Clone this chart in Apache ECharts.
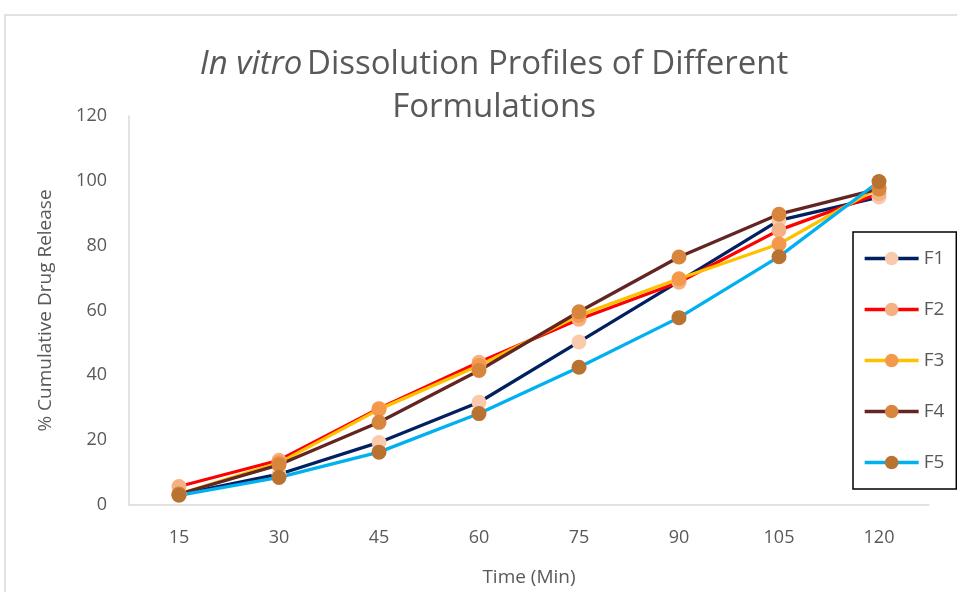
<!DOCTYPE html>
<html><head><meta charset="utf-8">
<script src="https://cdn.jsdelivr.net/npm/echarts@6/dist/echarts.min.js"></script>
<style>html,body{margin:0;padding:0;background:#fff}#c{width:957px;height:592px}</style>
</head><body><div id="c"></div>
<script>
const categories = ['15','30','45','60','75','90','105','120'];
const seriesNames = ['F1','F2','F3','F4','F5'];
const F1 = [3.2, 9.5, 19.3, 31.7, 50.3, 69, 87.8, 95];
const F2 = [5.7, 13.8, 29.8, 44, 57.3, 68.7, 84.8, 96];
const F3 = [3.4, 13, 29.5, 43, 58.5, 69.8, 80.5, 98];
const F4 = [3.4, 12.4, 25.5, 41.5, 59.6, 76.5, 89.7, 97.5];
const F5 = [3, 8.5, 16.3, 28.2, 42.5, 57.8, 76.6, 99.8];
const lineColors = ['#002060','#FF0000','#FFC000','#632523','#00B0F0'];
const markerColors = ['#F8CBAD','#F4B183','#F4994B','#D8853E','#B87333'];
const values = [F1,F2,F3,F4,F5];
const FONT = 'Open Sans';
const chart = echarts.init(document.getElementById('c'));
chart.setOption({
  animation:false,
  textStyle:{fontFamily:FONT},
  graphic:[{type:'rect',shape:{x:5,y:15,width:1200,height:1200},style:{fill:'none',stroke:'#d9d9d9',lineWidth:1.5},silent:true}],
  title:{
    left:489, top:38, textAlign:'center',
    text:'{i|In vitro} {n|Dissolution Profiles of Different}\n{n|Formulations}',
    textStyle:{
      fontWeight:'normal',
      rich:{
        i:{fontFamily:FONT,fontSize:33,fontStyle:'italic',fontWeight:'normal',color:'#595959',lineHeight:43},
        n:{fontFamily:FONT,fontSize:33,fontWeight:'normal',color:'#595959',lineHeight:43}
      }
    }
  },
  grid:{left:129,right:28,top:116,bottom:85},
  legend:{
    orient:'vertical', left:853, top:232,
    padding:[14,12,14,10],
    borderColor:'#000', borderWidth:1.5,
    itemWidth:54, itemHeight:17, itemGap:26,
    lineStyle:{width:3.3},
    textStyle:{fontFamily:FONT,fontSize:19,color:'#595959',lineHeight:25},
    data:seriesNames
  },
  xAxis:{
    type:'category', data:categories, boundaryGap:true,
    axisLine:{lineStyle:{color:'#d9d9d9',width:1.5}},
    axisTick:{show:false},
    axisLabel:{fontFamily:FONT,fontSize:18,color:'#595959',margin:24},
    name:'Time (Min)', nameLocation:'middle', nameGap:63,
    nameTextStyle:{fontFamily:FONT,fontSize:19,color:'#595959'}
  },
  yAxis:{
    type:'value', min:0, max:120, interval:20,
    axisLine:{show:true,lineStyle:{color:'#d9d9d9',width:1.5}},
    axisTick:{show:false},
    splitLine:{show:false},
    axisLabel:{fontFamily:FONT,fontSize:18,color:'#595959',margin:22},
    name:'% Cumulative Drug Release', nameLocation:'middle', nameGap:74,
    nameTextStyle:{fontFamily:FONT,fontSize:19,color:'#595959'}
  },
  series: seriesNames.map((n,i)=>({
    name:n, type:'line', data:values[i],
    symbol:'circle', symbolSize:15, showSymbol:true,
    lineStyle:{color:lineColors[i],width:3.3},
    itemStyle:{color:markerColors[i],borderWidth:0},
    color:markerColors[i]
  }))
});
</script></body></html>
